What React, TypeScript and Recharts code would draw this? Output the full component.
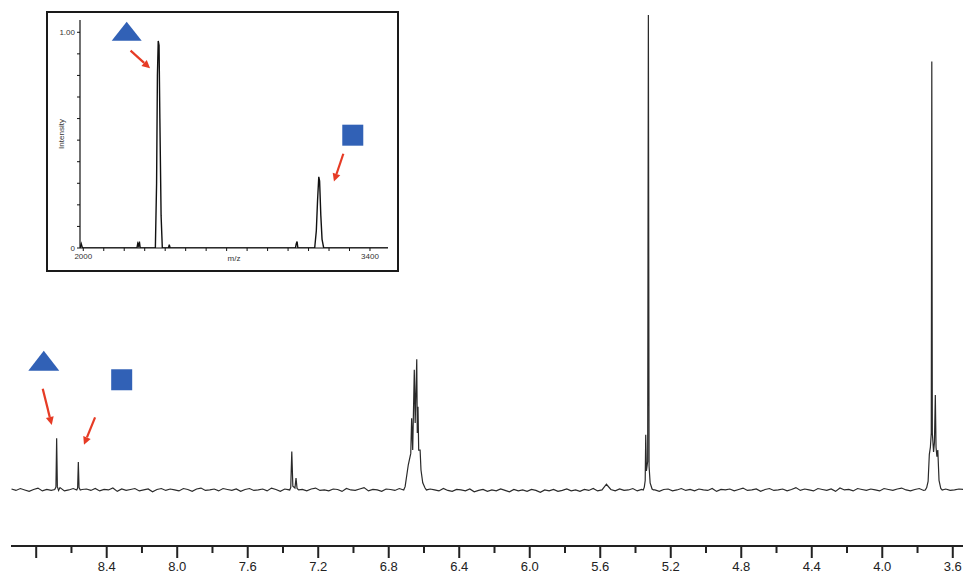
import React from 'react';
import { LineChart, Line, XAxis, YAxis, ReferenceDot, ReferenceLine, Label } from 'recharts';

// --- 1H NMR trace (main plot) ---
const noiseStartPpm = 8.94;
const noiseStepPpm = 0.025;
const baselineNoise = [
  0.2, -0.1, 0.3, 0.0, -0.3, 0.1, 0.4, -0.2, 0.1, -0.1, 0.2, 0.5, -0.2, 0.0, 0.3, -0.3, 0.1, 0.2,
  -0.1, 0.3, -0.2, 0.1, 0.0, 0.4, -0.3, 0.2, -0.1, 0.1, 0.3, -0.2, 0.0, 0.2, -0.4, 0.1, 0.3, -0.1,
  0.2, 0.0, -0.2, 0.3, 0.1, -0.3, 0.2, 0.4, -0.1, 0.0, 0.2, -0.2, 0.3, 0.1, -0.1, 0.2, -0.3, 0.1,
  0.3, -0.1, 0.0, 0.2, -0.2, 0.4, 0.1, -0.3, 0.2, 0.0, -0.1, 0.3, 0.1, -0.2, 0.2, 0.4, -0.1, 0.0,
  -0.2, 0.2, 0.1, -0.3, 0.3, 0.0, -0.1, 0.2, 0.5, -0.2, 0.1, 0.0, -0.3, 0.2, 0.1, -0.1, 0.3, -0.2,
  0.0, 0.2, -0.1, 0.1, -0.4, 0.2, 0.0, -0.2, 0.3, -0.1, -0.3, 0.1, 0.0, -0.2, 0.2, -0.4, -0.1, 0.1,
  -0.3, 0.0, -0.2, 0.2, -0.1, -0.4, 0.1, -0.2, 0.0, -0.3, 0.1, -0.1, -0.5, 0.0, -0.2, 0.1, -0.3, -0.1,
  0.2, -0.2, 0.0, -0.3, 0.1, -0.1, 0.3, -0.2, 0.0, 1.2, 0.1, -0.2, 0.2, -0.1, 0.0, 0.3, -0.2, 0.1,
  -0.1, 0.2, 0.0, -0.3, 0.1, 0.2, -0.2, 0.0, 0.3, -0.1, 0.1, -0.2, 0.2, 0.0, -0.1, 0.3, -0.3, 0.1,
  0.0, 0.2, -0.2, 0.1, 0.4, -0.1, 0.0, 0.2, -0.3, 0.1, 0.3, -0.1, 0.0, 0.2, -0.2, 0.1, 0.5, -0.1,
  0.2, 0.0, -0.2, 0.3, 0.1, -0.1, 0.2, -0.3, 0.4, 0.0, 0.1, -0.2, 0.3, 0.1, -0.1, 0.2, 0.0, -0.2,
  0.3, 0.1, -0.1, 0.2, 0.4, 0.0, -0.2, 0.1, 0.3, -0.1, 0.2, 0.0, -0.3, 0.1, 0.2, -0.1, 0.0, 0.2,
  0.1,
];

// peaks as [ppm, intensity]
const peakTriangle = [[8.695, 0.1], [8.688, 0.6], [8.684, 10.9], [8.680, 0.7], [8.673, -0.1]];
const peakSquare = [[8.570, 0.0], [8.565, 0.4], [8.561, 5.9], [8.557, 0.5], [8.550, 0.0]];
const peak735 = [[7.362, 0.0], [7.356, 0.5], [7.350, 8.1], [7.344, 0.8], [7.332, 0.4], [7.326, 2.5], [7.320, 0.3], [7.311, 0.0]];
const peakMultiplet = [
  [6.715, 0.0], [6.707, 0.7], [6.689, 5.3], [6.675, 7.7], [6.670, 15.1], [6.664, 8.4], [6.655, 25.3],
  [6.650, 14.1], [6.641, 27.5], [6.638, 12.0], [6.634, 17.5], [6.630, 8.4], [6.622, 8.4], [6.617, 4.2],
  [6.607, 1.5], [6.594, 0.4], [6.586, 0.0],
];
const peak533 = [[5.356, 0.0], [5.350, 0.6], [5.345, 2.0], [5.342, 11.6], [5.338, 4.0], [5.331, 6.0], [5.327, 100], [5.323, 5.0], [5.317, 1.5], [5.306, 0.2], [5.298, 0.0]];
const peak372 = [
  [3.756, 0.0], [3.748, 0.5], [3.740, 1.8], [3.733, 7.5], [3.727, 9.0], [3.722, 12.0], [3.719, 90.2],
  [3.716, 12.0], [3.709, 8.0], [3.704, 10.0], [3.699, 20.0], [3.695, 9.0], [3.690, 7.0], [3.685, 8.4],
  [3.678, 2.0], [3.668, 0.3], [3.660, 0.0],
];
const nmrPeaks = [peakTriangle, peakSquare, peak735, peakMultiplet, peak533, peak372];

const nmrTicks = [8.8, 8.6, 8.4, 8.2, 8.0, 7.8, 7.6, 7.4, 7.2, 7.0, 6.8, 6.6, 6.4, 6.2, 6.0, 5.8, 5.6, 5.4, 5.2, 5.0, 4.8, 4.6, 4.4, 4.2, 4.0, 3.8, 3.6];
const nmrLabelled = ['8.4', '8.0', '7.6', '7.2', '6.8', '6.4', '6.0', '5.6', '5.2', '4.8', '4.4', '4.0', '3.6'];

// --- MALDI mass spectrum (inset) ---  [m/z, relative intensity]
const msTrace = [
  [1984, 0.0], [1990, 0.02], [1996, 0.0], [2262, 0.0], [2266, 0.02], [2270, 0.01], [2274, 0.03], [2278, 0.0],
  [2352, 0.0], [2358, 0.3], [2362, 0.8], [2366, 0.96], [2370, 0.94], [2374, 0.6], [2380, 0.15], [2386, 0.0],
  [2416, 0.0], [2420, 0.015], [2424, 0.0], [3036, 0.0], [3040, 0.02], [3044, 0.03], [3048, 0.0],
  [3130, 0.0], [3138, 0.08], [3144, 0.22], [3150, 0.33], [3154, 0.31], [3160, 0.15], [3166, 0.04], [3174, 0.0],
  [3488, 0.0],
];
const msXTicks = [2000, 2100, 2200, 2300, 2400, 2500, 2600, 2700, 2800, 2900, 3000, 3100, 3200, 3300, 3400];
const msYTicks = [0, 0.1, 0.2, 0.3, 0.4, 0.5, 0.6, 0.7, 0.8, 0.9, 1.0];

// annotation markers (data coordinates of each chart)
const nmrTriangleAt = { x: 8.757, y: 27.2 };
const nmrSquareAt = { x: 8.315, y: 23.2 };
const nmrArrows = [
  [{ x: 8.763, y: 21.3 }, { x: 8.712, y: 13.7 }],
  [{ x: 8.466, y: 15.3 }, { x: 8.529, y: 9.5 }],
];
const msTriangleAt = { x: 2212, y: 1.005 };
const msSquareAt = { x: 3316, y: 0.523 };
const msArrows = [
  [{ x: 2231, y: 0.915 }, { x: 2326, y: 0.833 }],
  [{ x: 3270, y: 0.437 }, { x: 3224, y: 0.308 }],
];

const BLUE = '#3161b6';
const RED = '#e63b25';

const peakRanges = nmrPeaks.map((p) => [p[p.length - 1][0], p[0][0]]);
const nmrData = [
  ...baselineNoise
    .map((v, i) => ({ ppm: +(noiseStartPpm - i * noiseStepPpm).toFixed(3), y: v }))
    .filter((d) => !peakRanges.some(([lo, hi]) => d.ppm >= lo - 0.004 && d.ppm <= hi + 0.004)),
  ...nmrPeaks.flat().map(([ppm, y]) => ({ ppm, y })),
].sort((a, b) => a.ppm - b.ppm);

const msData = msTrace.map(([mz, v]) => ({ mz, v }));

const Triangle = (w: number, h: number) => (props: any) => {
  const { cx, cy } = props;
  return <polygon points={`${cx},${cy - h / 2} ${cx + w / 2},${cy + h / 2} ${cx - w / 2},${cy + h / 2}`} fill={BLUE} />;
};

const Square = (s: number) => (props: any) => {
  const { cx, cy } = props;
  return <rect x={cx - s / 2} y={cy - s / 2} width={s} height={s} fill={BLUE} />;
};

const Arrow = (props: any) => {
  const { x1, y1, x2, y2 } = props;
  const a = Math.atan2(y2 - y1, x2 - x1);
  const len = 8;
  const w = 4;
  const bx = x2 - len * Math.cos(a);
  const by = y2 - len * Math.sin(a);
  const px = -Math.sin(a) * w;
  const py = Math.cos(a) * w;
  return (
    <g>
      <line x1={x1} y1={y1} x2={bx} y2={by} stroke={RED} strokeWidth={2.2} />
      <polygon points={`${x2},${y2} ${bx + px},${by + py} ${bx - px},${by - py}`} fill={RED} />
    </g>
  );
};

const NmrTick = (props: any) => {
  const { x, y, payload } = props;
  const label = payload.value.toFixed(1);
  const major = Math.round(payload.value * 10) % 4 === 0;
  return (
    <g>
      <line x1={x} x2={x} y1={y} y2={y + (major ? 12 : 7)} stroke="#222" strokeWidth={2} />
      {nmrLabelled.includes(label) && (
        <text x={x} y={y + 25} textAnchor="middle" fontFamily="Liberation Sans" fontSize={13} fill="#222">
          {label}
        </text>
      )}
    </g>
  );
};

const msTickStyle = { fontSize: 8, fill: '#333', fontFamily: 'Liberation Sans' };

export default function App() {
  return (
    <div style={{ position: 'absolute', left: 0, top: 0, width: 963, height: 575, overflow: 'hidden', background: '#fff' }}>
      <div style={{ position: 'absolute', left: 0, top: 0 }}>
        <LineChart width={963} height={575} data={nmrData} margin={{ top: 15, right: 0, bottom: 0, left: 11 }}>
          <XAxis
            dataKey="ppm"
            type="number"
            domain={[3.542, 8.943]}
            reversed
            allowDataOverflow
            ticks={nmrTicks}
            interval={0}
            height={29}
            tickSize={0}
            tickMargin={0}
            tickLine={false}
            axisLine={{ stroke: '#222', strokeWidth: 2 }}
            tick={<NmrTick />}
          />
          <YAxis hide type="number" domain={[-11.8, 100]} allowDataOverflow />
          <Line type="linear" dataKey="y" stroke="#2a2a2a" strokeWidth={1.2} dot={false} isAnimationActive={false} />
          <ReferenceDot x={nmrTriangleAt.x} y={nmrTriangleAt.y} shape={Triangle(31, 20)} />
          <ReferenceDot x={nmrSquareAt.x} y={nmrSquareAt.y} shape={Square(21)} />
          {nmrArrows.map((seg, i) => (
            <ReferenceLine key={i} segment={seg} shape={Arrow} />
          ))}
        </LineChart>
      </div>

      <div
        style={{
          position: 'absolute',
          left: 46,
          top: 11,
          width: 353,
          height: 261,
          boxSizing: 'border-box',
          border: '2px solid #1a1a1a',
          background: '#fff',
        }}
      />

      <div style={{ position: 'absolute', left: 0, top: 0 }}>
        <LineChart width={400} height={280} data={msData} margin={{ top: 20, right: 12, bottom: 0, left: 50 }}>
          <XAxis
            dataKey="mz"
            type="number"
            domain={[1984, 3488]}
            allowDataOverflow
            ticks={msXTicks}
            interval={0}
            height={32}
            tickSize={3}
            tickMargin={2}
            axisLine={{ stroke: '#111', strokeWidth: 1.2 }}
            tickLine={{ stroke: '#111' }}
            tick={msTickStyle}
            tickFormatter={(v: number) => (v === 2000 || v === 3400 ? String(v) : '')}
          >
            <Label value="m/z" position="insideTop" offset={7} style={msTickStyle} />
          </XAxis>
          <YAxis
            type="number"
            domain={[0, 1.057]}
            allowDataOverflow
            ticks={msYTicks}
            interval={0}
            width={30}
            tickSize={3}
            tickMargin={2}
            axisLine={{ stroke: '#111', strokeWidth: 1.2 }}
            tickLine={{ stroke: '#111' }}
            tick={msTickStyle}
            tickFormatter={(v: number) => (v === 1 ? '1.00' : v === 0 ? '0' : '')}
          >
            <Label
              content={({ viewBox }: any) => {
                const cx = viewBox.x + 11;
                const cy = viewBox.y + viewBox.height / 2;
                return (
                  <text x={cx} y={cy} transform={`rotate(-90 ${cx} ${cy})`} textAnchor="middle" dominantBaseline="central" {...msTickStyle}>
                    Intensity
                  </text>
                );
              }}
            />
          </YAxis>
          <Line type="linear" dataKey="v" stroke="#111" strokeWidth={1.4} dot={false} isAnimationActive={false} />
          <ReferenceDot x={msTriangleAt.x} y={msTriangleAt.y} shape={Triangle(30, 19)} />
          <ReferenceDot x={msSquareAt.x} y={msSquareAt.y} shape={Square(21)} />
          {msArrows.map((seg, i) => (
            <ReferenceLine key={i} segment={seg} shape={Arrow} />
          ))}
        </LineChart>
      </div>
    </div>
  );
}
